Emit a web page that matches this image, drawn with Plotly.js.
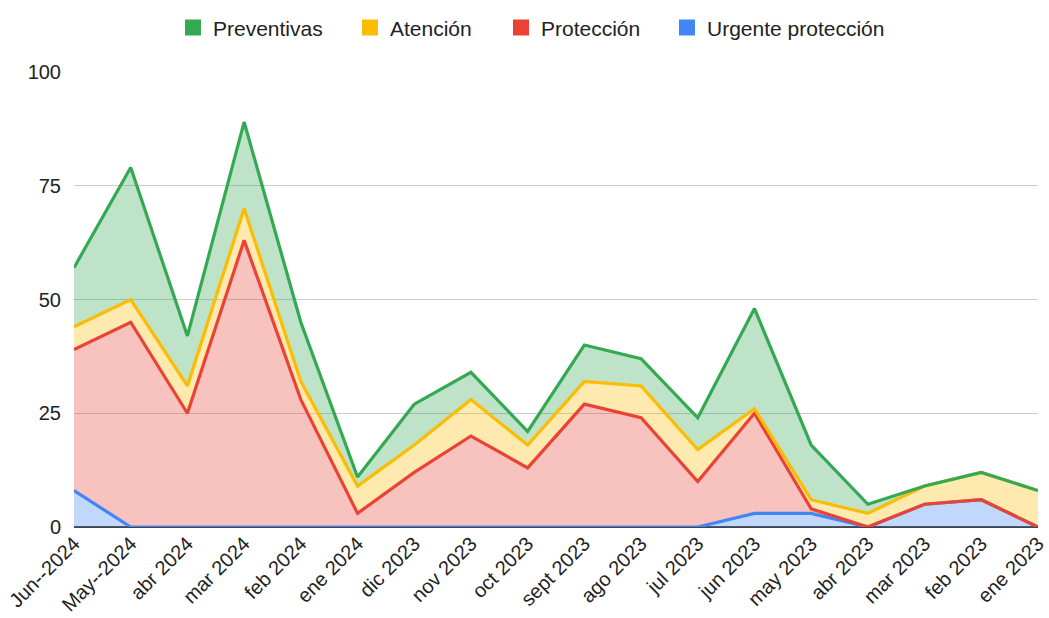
<!DOCTYPE html>
<html>
<head>
<meta charset="utf-8">
<script src="https://cdn.plot.ly/plotly-3.0.1.min.js"></script>
<style>html,body{margin:0;padding:0;background:#fff;}#chart{width:1049px;height:618px;}</style>
</head>
<body>
<div id="chart"></div>
<script>
const categories = ["Jun--2024","May--2024","abr 2024","mar 2024","feb 2024","ene 2024","dic 2023","nov 2023","oct 2023","sept 2023","ago 2023","jul 2023","jun 2023","may 2023","abr 2023","mar 2023","feb 2023","ene 2023"];
const urgente     = [8, 0, 0, 0, 0, 0, 0, 0, 0, 0, 0, 0, 3, 3, 0, 5, 6, 0];
const proteccion  = [31, 45, 25, 63, 28, 3, 12, 20, 13, 27, 24, 10, 22, 1, 0, 0, 0, 0];
const atencion    = [5, 5, 6, 7, 4, 6, 6, 8, 5, 5, 7, 7, 1, 2, 3, 4, 6, 8];
const preventivas = [13, 29, 11, 19, 13, 2, 9, 6, 3, 8, 6, 7, 22, 12, 2, 0, 0, 0];
const yTicks = [0, 25, 50, 75, 100];

const series = [
  {name: "Urgente protección", y: urgente, color: "#4285f4", fill: "rgba(66,133,244,0.32)"},
  {name: "Protección", y: proteccion, color: "#ea4335", fill: "rgba(234,67,53,0.32)"},
  {name: "Atención", y: atencion, color: "#fbbc04", fill: "rgba(251,188,4,0.32)"},
  {name: "Preventivas", y: preventivas, color: "#34a853", fill: "rgba(52,168,83,0.32)"}
];
const idx = categories.map((_, i) => i);
const traces = series.map(s => ({
  type: "scatter", mode: "lines", x: idx, y: s.y, name: s.name,
  stackgroup: "one", line: {color: s.color, width: 3.2}, fillcolor: s.fill,
  showlegend: false, hoverinfo: "y"
}));

const FONT = "'Liberation Sans', Arial, sans-serif";
// one legend per entry, left-to-right as in the reference
const legendOrder = [3, 2, 1, 0];
const legendLeft = [173, 350, 501, 667];
const layout = {
  width: 1049, height: 618,
  margin: {l: 74, r: 11, t: 72, b: 91},
  paper_bgcolor: "#fff", plot_bgcolor: "#fff",
  font: {family: FONT, color: "#222"},
  showlegend: true,
  xaxis: {
    type: "linear", range: [0, categories.length - 1], tickmode: "array",
    tickvals: idx, ticktext: categories, tickangle: -45,
    tickfont: {size: 20, color: "#222", family: FONT}, showgrid: false, zeroline: false,
    showline: false, ticks: "", fixedrange: true
  },
  yaxis: {
    range: [0, 100], tickmode: "array", tickvals: yTicks,
    tickfont: {size: 20, color: "#222", family: FONT}, gridcolor: "#cccccc", gridwidth: 1,
    zeroline: true, zerolinecolor: "#444", zerolinewidth: 1.5,
    showline: false, ticks: "", ticklabelstandoff: 12, fixedrange: true
  }
};
legendOrder.forEach((si, k) => {
  const s = series[si];
  const lg = k === 0 ? "legend" : "legend" + (k + 1);
  traces.push({type: "scatter", mode: "markers", x: [null], y: [null], name: s.name,
    legend: lg, marker: {symbol: "square", size: 20, color: s.color}, showlegend: true});
  layout[lg] = {orientation: "h", x: legendLeft[k] / 1049, xanchor: "left", xref: "container",
    y: 0.955, yanchor: "middle", yref: "container", borderwidth: 0,
    font: {size: 21, color: "#222", family: FONT}, itemwidth: 30, bgcolor: "rgba(0,0,0,0)"};
});
Plotly.newPlot("chart", traces, layout, {displayModeBar: false, staticPlot: true});
</script>
</body>
</html>
